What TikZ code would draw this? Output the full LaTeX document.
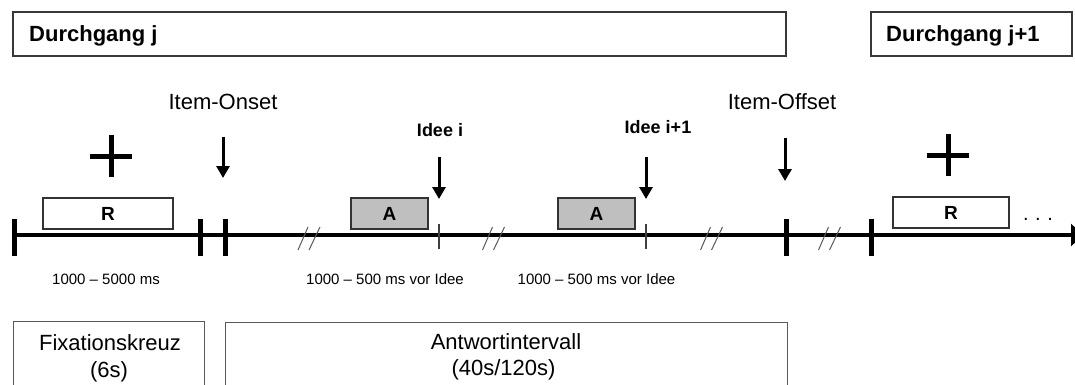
\documentclass[tikz,border=0pt]{standalone}
\usepackage{fontspec}
\setmainfont{Liberation Sans}
\usetikzlibrary{arrows.meta}
\tikzset{
  topbox/.style={draw=black!78, line width=1.2pt},
  lowbox/.style={draw=black!65, line width=1pt},
  evbox/.style={draw=black!80, line width=1.3pt, minimum height=31pt, inner sep=0pt,
    font=\fontsize{19}{22}\selectfont\bfseries},
  rbox/.style={evbox, fill=white},
  abox/.style={evbox, fill=black!25},
  timeline/.style={line width=4.5pt, -{Triangle[length=12pt,width=22pt]}},
  bigtick/.style={line width=5pt},
  smalltick/.style={line width=1.2pt, draw=black!75},
  pointer/.style={line width=3pt, -{Triangle[length=12pt,width=13pt]}},
  crossbar/.style={line width=5pt},
  brk/.style={draw=black!65, line width=1pt},
  lbl/.style={inner sep=0pt, anchor=base},
  title/.style={lbl, anchor=base west, font=\fontsize{22}{26}\selectfont\bfseries},
  evlbl/.style={lbl, font=\fontsize{22}{26}\selectfont},
  idee/.style={lbl, font=\fontsize{18}{22}\selectfont\bfseries},
  timelbl/.style={lbl, font=\fontsize{15}{18}\selectfont},
  phaselbl/.style={lbl, font=\fontsize{22}{26}\selectfont},
}
\begin{document}
\begin{tikzpicture}[x=1pt,y=-1pt]
\useasboundingbox (0,0) rectangle (1075,385);
\clip (0,0) rectangle (1075,385);
\fill[white] (0,0) rectangle (1075,385);

% top boxes
\draw[topbox] (13,12) rectangle (786,56);
\node[title] (dj) at (29,42) {Durchgang j};
\draw[topbox] (871,12) rectangle (1072,56);
\node[title] (dj1) at (886,42) {Durchgang j+1};

% event labels
\node[evlbl] (onset) at (223,109.5) {Item-Onset};
\node[evlbl] (offset) at (782,110) {Item-Offset};
\node[idee] (ideei) at (440,136) {Idee i};
\node[idee] (ideei1) at (658,133) {Idee i+1};

% pointer arrows
\coordinate (onA) at (223,137);  \coordinate (onB) at (223,178);
\coordinate (iiA) at (439,157);  \coordinate (iiB) at (439,199);
\coordinate (ijA) at (646,157);  \coordinate (ijB) at (646,199);
\coordinate (ofA) at (785,138);  \coordinate (ofB) at (785,181);
\draw[pointer] (onA) -- (onB);
\draw[pointer] (iiA) -- (iiB);
\draw[pointer] (ijA) -- (ijB);
\draw[pointer] (ofA) -- (ofB);

% fixation crosses
\draw[crossbar] (90,156) -- (132,156);
\draw[crossbar] (111,135) -- (111,177);
\draw[crossbar] (927,155) -- (969,155);
\draw[crossbar] (948,134) -- (948,176);

% timeline
\coordinate (tstart) at (14,235);
\coordinate (tend) at (1083,235);
\draw[timeline] (tstart) -- (tend);

% thick ticks
\foreach \x in {14,200.5,225.5,786,871}
  \draw[bigtick] (\x,219) -- (\x,256);
% thin ticks
\foreach \x in {439,646}
  \draw[smalltick] (\x,224) -- (\x,249);

% break marks
\foreach \c in {309,493.5,711.5,829.5} {
  \draw[brk] (\c-11,250) -- (\c-1,227);
  \draw[brk] (\c,250) -- (\c+11,227);
}

% event boxes
\node[rbox, minimum width=130pt] (r1) at (108,213.5) {R};
\node[abox, minimum width=77pt] (a1) at (389.5,213.5) {A};
\node[abox, minimum width=77pt] (a2) at (596.5,213.5) {A};
\node[rbox, minimum width=116pt] (r2) at (951,212.5) {R};
\node[lbl, font=\fontsize{20}{24}\selectfont] (dots) at (1038,220) {.\,\,.\,\,.};

% time labels
\node[timelbl] (t1) at (106,284) {1000 – 5000 ms};
\node[timelbl] (t2) at (385,284) {1000 – 500 ms vor Idee};
\node[timelbl] (t3) at (596.5,284) {1000 – 500 ms vor Idee};

% phase boxes
\draw[lowbox] (13,321) rectangle (204,400);
\node[phaselbl] (fix1) at (110,350) {Fixationskreuz};
\node[phaselbl] (fix2) at (109,377) {(6s)};
\draw[lowbox] (225,322) rectangle (787,400);
\node[phaselbl] (ant1) at (506,349) {Antwortintervall};
\node[phaselbl] (ant2) at (503.5,375) {(40s/120s)};
\end{tikzpicture}
\end{document}
